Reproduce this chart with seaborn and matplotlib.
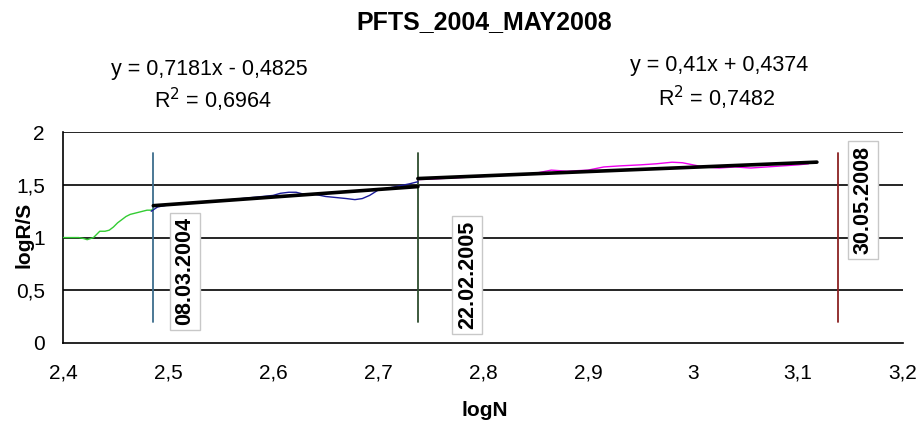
import numpy as np
import pandas as pd
import matplotlib
matplotlib.use("Agg")
import matplotlib.pyplot as plt
import seaborn as sns

# ---- data ----
green_x = [2.400, 2.405, 2.410, 2.415, 2.420, 2.423, 2.426, 2.429, 2.432, 2.435, 2.440, 2.444,
           2.448, 2.452, 2.456, 2.460, 2.464, 2.468, 2.472, 2.476, 2.480, 2.484, 2.486]
green_y = [1.00, 1.00, 1.00, 1.00, 0.99, 0.98, 0.99, 1.00, 1.03, 1.06, 1.06, 1.07,
           1.10, 1.14, 1.17, 1.20, 1.22, 1.23, 1.24, 1.25, 1.26, 1.26, 1.27]

blue_x = [2.484, 2.490, 2.500, 2.510, 2.520, 2.530, 2.540, 2.550, 2.560, 2.570, 2.580, 2.590,
          2.600, 2.607, 2.615, 2.622, 2.630, 2.640, 2.650, 2.660, 2.670, 2.678, 2.685, 2.692,
          2.700, 2.710, 2.720, 2.730, 2.738]
blue_y = [1.25, 1.29, 1.31, 1.32, 1.33, 1.33, 1.34, 1.35, 1.36, 1.37, 1.38, 1.39,
          1.40, 1.42, 1.43, 1.43, 1.41, 1.41, 1.39, 1.38, 1.37, 1.36, 1.37, 1.40,
          1.45, 1.47, 1.49, 1.51, 1.53]

magenta_x = [2.738, 2.750, 2.770, 2.790, 2.810, 2.830, 2.850, 2.865, 2.880, 2.900, 2.915, 2.930,
             2.950, 2.965, 2.980, 2.990, 3.000, 3.010, 3.025, 3.040, 3.055, 3.070, 3.085, 3.100, 3.110]
magenta_y = [1.55, 1.555, 1.565, 1.575, 1.585, 1.595, 1.61, 1.64, 1.63, 1.64, 1.67, 1.68,
             1.69, 1.70, 1.715, 1.71, 1.69, 1.67, 1.66, 1.67, 1.66, 1.67, 1.68, 1.69, 1.70]

# trend lines (from the equations shown on the chart)
trend1_slope, trend1_icpt = 0.7181, -0.4825
trend1_x = [2.486, 2.738]
trend2_slope, trend2_icpt = 0.41, 0.4374
trend2_x = [2.738, 3.118]

eq1_text = ["y = 0,7181x - 0,4825", "R$^2$ = 0,6964"]
eq2_text = ["y = 0,41x + 0,4374", "R$^2$ = 0,7482"]

# date markers
date_x = [2.486, 2.738, 3.138]
date_labels = ["08.03.2004", "22.02.2005", "30.05.2008"]
date_label_pos = [(2.516, 0.68), (2.785, 0.645), (3.162, 1.355)]
date_line_range = (0.2, 1.8)

xticks = [2.4, 2.5, 2.6, 2.7, 2.8, 2.9, 3.0, 3.1, 3.2]
xticklabels = ["2,4", "2,5", "2,6", "2,7", "2,8", "2,9", "3", "3,1", "3,2"]
yticks = [0, 0.5, 1, 1.5, 2]
yticklabels = ["0", "0,5", "1", "1,5", "2"]

# ---- plot ----
sns.set_style("white")
plt.rcParams['font.family'] = ['Liberation Sans', 'DejaVu Sans']
plt.rcParams['text.color'] = 'black'
plt.rcParams['xtick.color'] = 'black'
plt.rcParams['ytick.color'] = 'black'
plt.rcParams['axes.labelcolor'] = 'black'

fig = plt.figure(figsize=(9.2, 4.25), dpi=100)
ax = fig.add_axes([0.0685, 0.193, 0.913, 0.496])

for gy in [0.5, 1.0, 1.5, 2.0]:
    ax.axhline(gy, color="black", lw=1.2, zorder=1)

df_g = pd.DataFrame({"x": green_x, "y": green_y})
df_b = pd.DataFrame({"x": blue_x, "y": blue_y})
df_m = pd.DataFrame({"x": magenta_x, "y": magenta_y})
sns.lineplot(data=df_g, x="x", y="y", ax=ax, color="#33cc33", lw=1.0, sort=False, zorder=3)
sns.lineplot(data=df_b, x="x", y="y", ax=ax, color="#1a1a99", lw=1.0, sort=False, zorder=3)
sns.lineplot(data=df_m, x="x", y="y", ax=ax, color="#ee00ee", lw=1.0, sort=False, zorder=3)

t1 = pd.DataFrame({"x": trend1_x, "y": [trend1_slope * v + trend1_icpt for v in trend1_x]})
t2 = pd.DataFrame({"x": trend2_x, "y": [trend2_slope * v + trend2_icpt for v in trend2_x]})
sns.lineplot(data=t1, x="x", y="y", ax=ax, color="black", lw=2.6, zorder=4)
sns.lineplot(data=t2, x="x", y="y", ax=ax, color="black", lw=2.6, zorder=4)

line_colors = ["#3d6d8c", "#2e4d2e", "#8b2222"]
for xv, c in zip(date_x, line_colors):
    ax.plot([xv, xv], list(date_line_range), color=c, lw=1.3, zorder=2)

for lab, (lx, ly) in zip(date_labels, date_label_pos):
    ax.text(lx, ly, lab, rotation=90, ha="center", va="center", fontsize=15.5,
            fontweight="bold", color="black", zorder=5,
            bbox=dict(boxstyle="square,pad=0.22", fc="white", ec="#c8c8c8", lw=1.0))

ax.set_xlim(2.4, 3.2)
ax.set_ylim(0, 2)
ax.set_xticks(xticks)
ax.set_xticklabels(xticklabels, fontsize=15)
ax.set_yticks(yticks)
ax.set_yticklabels(yticklabels, fontsize=15)
ax.tick_params(axis="both", direction="out", length=7, width=1.2, color="black", pad=6)
ax.tick_params(axis="x", pad=8)

for s in ["top", "right"]:
    ax.spines[s].set_visible(False)
for s in ["left", "bottom"]:
    ax.spines[s].set_color("black")
    ax.spines[s].set_linewidth(1.2)

ax.set_xlabel("")
ax.set_ylabel("")
fig.text(485 / 920, 1 - 410 / 425, "logN", ha="center", va="center", fontsize=15, fontweight="bold")
fig.text(24 / 920, 1 - 235 / 425, "logR/S", ha="center", va="center", rotation=90,
         fontsize=15, fontweight="bold")
fig.text(484 / 920, 1 - 22 / 425, "PFTS_2004_MAY2008", ha="center", va="center",
         fontsize=18, fontweight="bold")

fig.text(209 / 920, 1 - 70 / 425, eq1_text[0], ha="center", va="center", fontsize=15.5)
fig.text(213 / 920, 1 - 100 / 425, eq1_text[1], ha="center", va="center", fontsize=15.5)
fig.text(719 / 920, 1 - 66 / 425, eq2_text[0], ha="center", va="center", fontsize=15.5)
fig.text(717 / 920, 1 - 98 / 425, eq2_text[1], ha="center", va="center", fontsize=15.5)

fig.savefig("out.png", dpi=100)
